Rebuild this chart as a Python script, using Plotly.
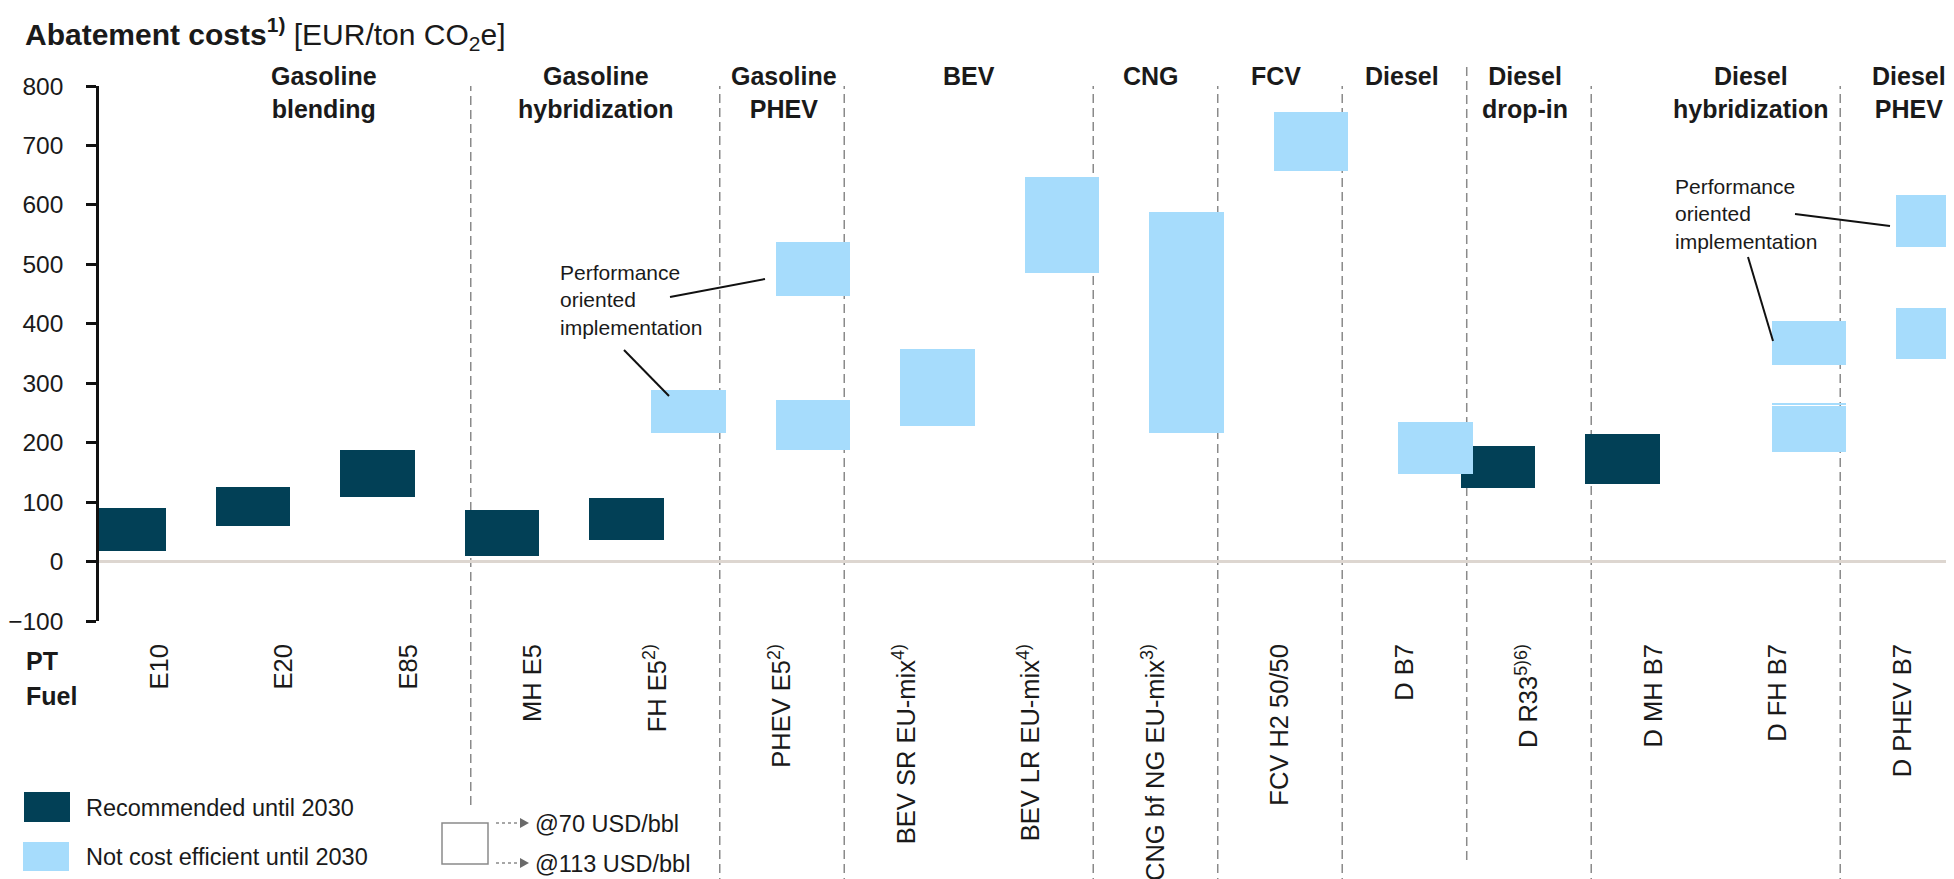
import plotly.graph_objects as go

# ---------------- data ----------------
categories = ["E10", "E20", "E85", "MH E5", "FH E5<sup>2)</sup>", "PHEV E5<sup>2)</sup>",
              "BEV SR EU-mix<sup>4)</sup>", "BEV LR EU-mix<sup>4)</sup>",
              "CNG bf NG EU-mix<sup>3)</sup>", "FCV H2 50/50", "D B7", "D R33<sup>5)6)</sup>",
              "D MH B7", "D FH B7", "D PHEV B7"]

# Recommended until 2030 (low/high of range, EUR/t CO2e)
rec_cat = ["E10", "E20", "E85", "MH E5", "FH E5<sup>2)</sup>", "D R33<sup>5)6)</sup>", "D MH B7"]
rec_low = [17, 59, 109, 9, 36, 123, 130]
rec_high = [90, 126, 187, 86, 107, 194, 214]

# Not cost efficient until 2030
nce_cat = ["FH E5<sup>2)</sup>", "PHEV E5<sup>2)</sup>", "PHEV E5<sup>2)</sup>",
           "BEV SR EU-mix<sup>4)</sup>", "BEV LR EU-mix<sup>4)</sup>",
           "CNG bf NG EU-mix<sup>3)</sup>", "FCV H2 50/50", "D B7",
           "D FH B7", "D FH B7", "D FH B7", "D PHEV B7", "D PHEV B7"]
nce_low = [216, 188, 446, 228, 486, 216, 657, 147, 185, 264, 330, 341, 529]
nce_high = [289, 272, 538, 357, 647, 588, 756, 234, 261, 266, 405, 427, 617]

group_labels = ["Gasoline<br>blending", "Gasoline<br>hybridization", "Gasoline<br>PHEV", "BEV",
                "CNG", "FCV", "Diesel", "Diesel<br>drop-in", "Diesel<br>hybridization",
                "Diesel<br>PHEV"]

y_ticks = [-100, 0, 100, 200, 300, 400, 500, 600, 700, 800]

# ---------------- style / layout ----------------
DARK = "#024056"
LIGHT = "#A6DCFC"
FONT = "Liberation Sans, Arial, sans-serif"
TXT = "#1a1a1a"

W, H = 1954, 879
ML, MR, MT, MB = 91, 4, 78, 266
PW, PH = W - ML - MR, H - MT - MB

def px(xp):
    return (xp - ML) / PW

def py(yp):
    return (H - MB - yp) / PH

idx = {c: i for i, c in enumerate(categories)}

fig = go.Figure()
fig.add_trace(go.Bar(
    x=[idx[c] for c in rec_cat], y=[h - l for l, h in zip(rec_low, rec_high)], base=rec_low,
    width=0.6, marker=dict(color=DARK, line=dict(width=0)), name="Recommended until 2030",
    showlegend=False, hoverinfo="skip"))
fig.add_trace(go.Bar(
    x=[idx[c] for c in nce_cat], y=[h - l for l, h in zip(nce_low, nce_high)], base=nce_low,
    width=0.6, marker=dict(color=LIGHT, line=dict(width=0)), name="Not cost efficient until 2030",
    showlegend=False, hoverinfo="skip"))

shapes = []
annotations = []

# group separators (between categories)
sep_pos = [2.5, 4.5, 5.5, 7.5, 8.5, 9.5, 10.5, 11.5, 13.5]
for s in sep_pos:
    y_top = py(57) if s == 10.5 else 1.0
    y_bot = py(797) if s == 2.5 else (py(852) if s == 10.5 else py(879))
    shapes.append(dict(type="line", xref="x", yref="paper", x0=s, x1=s, y0=y_bot, y1=y_top,
                       line=dict(color="#8a8a8a", width=1.5, dash="9px,5px"), layer="below"))

# group headers
header_x = [1.32, 3.51, 5.02, 6.5, 7.96, 8.97, 9.98, 10.97, 12.78, 14.05]
for lab, hx in zip(group_labels, header_x):
    annotations.append(dict(x=hx, xref="x", y=py(52), yref="paper", xanchor="center",
                            yanchor="top", text="<b>" + lab + "</b>", showarrow=False,
                            font=dict(family=FONT, size=25, color=TXT), align="center"))

# title
annotations.append(dict(x=px(15), y=py(26), xref="paper", yref="paper", xanchor="left",
                        yanchor="middle", showarrow=False,
                        text="<b>Abatement costs<sup>1)</sup></b> [EUR/ton CO<sub>2</sub>e]",
                        font=dict(family=FONT, size=30, color=TXT)))

# PT / Fuel
annotations.append(dict(x=px(16), y=py(653), xref="paper", yref="paper", xanchor="left",
                        yanchor="middle", showarrow=False, text="<b>PT</b>",
                        font=dict(family=FONT, size=25, color=TXT)))
annotations.append(dict(x=px(16), y=py(688), xref="paper", yref="paper", xanchor="left",
                        yanchor="middle", showarrow=False, text="<b>Fuel</b>",
                        font=dict(family=FONT, size=25, color=TXT)))

# Legend (colour)
shapes.append(dict(type="rect", xref="paper", yref="paper", x0=px(16), x1=px(62),
                   y0=py(814), y1=py(784), fillcolor=DARK, line=dict(width=0)))
shapes.append(dict(type="rect", xref="paper", yref="paper", x0=px(15), x1=px(61),
                   y0=py(863), y1=py(834), fillcolor=LIGHT, line=dict(width=0)))
annotations.append(dict(x=px(76), y=py(800), xref="paper", yref="paper", xanchor="left",
                        yanchor="middle", showarrow=False, text="Recommended until 2030",
                        font=dict(family=FONT, size=23.5, color=TXT)))
annotations.append(dict(x=px(76), y=py(849), xref="paper", yref="paper", xanchor="left",
                        yanchor="middle", showarrow=False, text="Not cost efficient until 2030",
                        font=dict(family=FONT, size=23.5, color=TXT)))

# Legend (oil price)
shapes.append(dict(type="rect", xref="paper", yref="paper", x0=px(434), x1=px(480),
                   y0=py(856), y1=py(815), fillcolor="white",
                   line=dict(color="#8a8a8a", width=1.5)))
for ya in (815, 855):
    shapes.append(dict(type="line", xref="paper", yref="paper", x0=px(488), x1=px(513),
                       y0=py(ya), y1=py(ya), line=dict(color="#8a8a8a", width=1.5, dash="dot")))
    shapes.append(dict(type="path", xref="paper", yref="paper",
                       path="M {} {} L {} {} L {} {} Z".format(px(512), py(ya - 5), px(521), py(ya),
                                                               px(512), py(ya + 5)),
                       fillcolor="#6a6a6a", line=dict(width=0)))
annotations.append(dict(x=px(525), y=py(816), xref="paper", yref="paper", xanchor="left",
                        yanchor="middle", showarrow=False, text="@70 USD/bbl",
                        font=dict(family=FONT, size=23.5, color=TXT)))
annotations.append(dict(x=px(525), y=py(856), xref="paper", yref="paper", xanchor="left",
                        yanchor="middle", showarrow=False, text="@113 USD/bbl",
                        font=dict(family=FONT, size=23.5, color=TXT)))

# "Performance oriented implementation" call-outs
for tx, ty in ((550, 292), (1665, 206)):
    annotations.append(dict(x=px(tx), y=py(ty), xref="paper", yref="paper", xanchor="left",
                            yanchor="middle", showarrow=False, align="left",
                            text="Performance<br>oriented<br>implementation",
                            font=dict(family=FONT, size=21, color=TXT)))
pointers = [((662, 289), (757, 271)), ((616, 342), (661, 388)),
            ((1787, 206), (1882, 218)), ((1740, 249), (1765, 333))]
for (x0, y0), (x1, y1) in pointers:
    shapes.append(dict(type="line", xref="paper", yref="paper", x0=px(x0), y0=py(y0),
                       x1=px(x1), y1=py(y1), line=dict(color="#111111", width=2)))

fig.update_layout(
    width=W, height=H, margin=dict(l=ML, r=MR, t=MT, b=MB, autoexpand=False),
    plot_bgcolor="white", paper_bgcolor="white", bargap=0,
    font=dict(family=FONT, color=TXT),
    shapes=shapes, annotations=annotations, showlegend=False,
    xaxis=dict(range=[-0.486, 14.446], tickmode="array", tickvals=list(range(len(categories))),
               ticktext=categories, tickangle=-90, ticks="", showline=False, showgrid=False,
               zeroline=False, tickfont=dict(family=FONT, size=25.5, color=TXT),
               ticklabelstandoff=17, automargin=False, fixedrange=True),
    yaxis=dict(range=[-100, 800], tickmode="array", tickvals=y_ticks, ticks="outside",
               ticklen=10, tickwidth=2.5, tickcolor="#111111", showline=True, linewidth=2.5,
               linecolor="#111111", showgrid=False, zeroline=True, zerolinecolor="#DDD6D0",
               zerolinewidth=3, tickfont=dict(family=FONT, size=24.5, color=TXT),
               ticklabelstandoff=18, automargin=False, fixedrange=True),
)

fig.write_html("out.html")
